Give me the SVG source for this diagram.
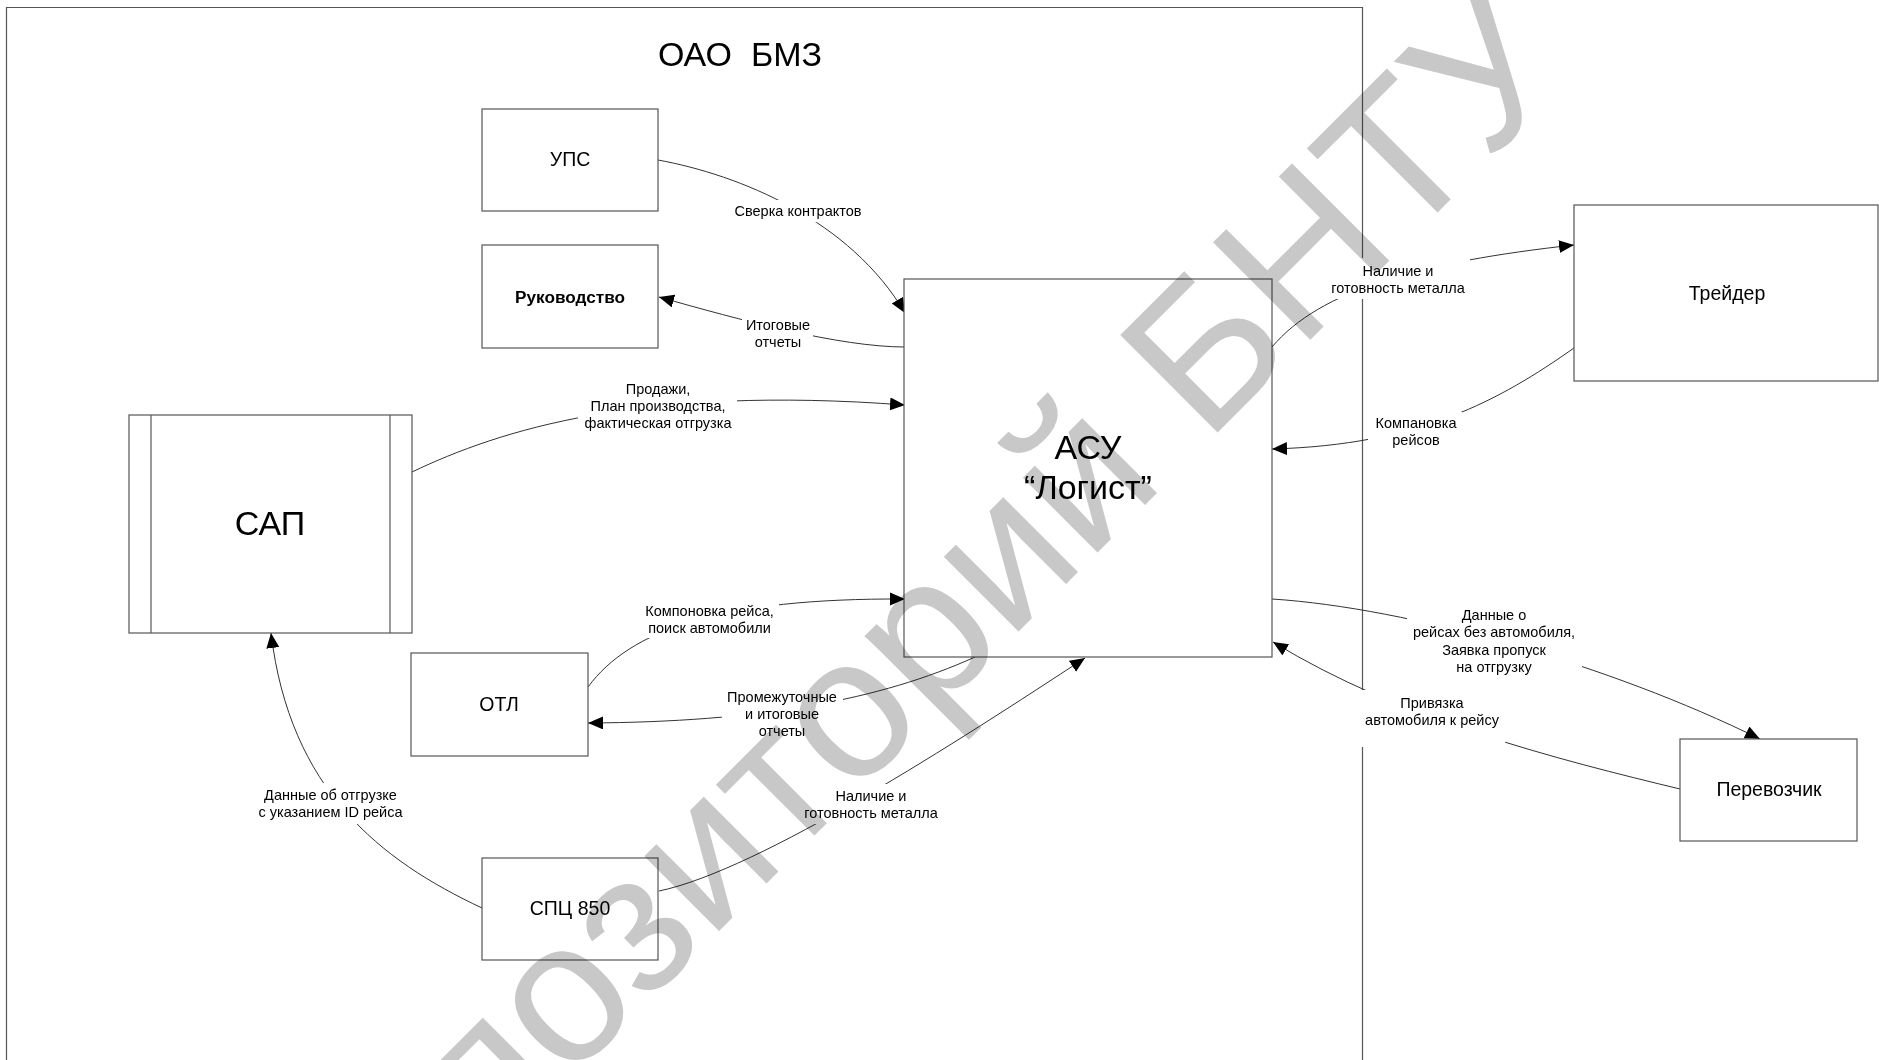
<svg xmlns="http://www.w3.org/2000/svg" width="1879" height="1060" viewBox="0 0 1879 1060">
<defs>
<marker id="arr" markerUnits="userSpaceOnUse" markerWidth="16" markerHeight="14" refX="15" refY="6.5" orient="auto">
<path d="M0,0 L15,6.5 L0,13 z" fill="#000"/>
</marker>
<style>
text{font-family:"Liberation Sans",Arial,sans-serif;fill:#000;text-anchor:middle}
.box{fill:#fff;stroke:#555;stroke-width:1.2}
.nl{font-size:19.5px}
.big{font-size:34px}
.lbl{font-size:14.5px}
.lb{fill:#fff;stroke:none}
.con{fill:none;stroke:#333;stroke-width:1}
.wm{font-size:200px;fill:#c8c8c8;text-anchor:start;mix-blend-mode:multiply}
</style>
</defs>
<rect width="1879" height="1060" fill="#fff"/>
<g id="frame">
<path d="M6.5,1061 V7.5 H1362.5 V1061" fill="none" stroke="#555" stroke-width="1.2"/>
<text x="740" y="66" class="big">ОАО&#160; БМЗ</text>
</g>
<g id="connectors">
<path class="con" d="M658,160 C740,175 850,220 905,313" marker-end="url(#arr)"/>
<path class="con" d="M905,347 C840,347 740,320 659,297" marker-end="url(#arr)"/>
<path class="con" d="M412,472 C500,430 640,385 905,405" marker-end="url(#arr)"/>
<path class="con" d="M588,687 C630,630 720,598 905,599" marker-end="url(#arr)"/>
<path class="con" d="M975,657 C880,700 760,722 588,723" marker-end="url(#arr)"/>
<path class="con" d="M659,891 C760,870 960,740 1085,658" marker-end="url(#arr)"/>
<path class="con" d="M482,908 C380,860 290,790 271,633" marker-end="url(#arr)"/>
<path class="con" d="M1272,347 C1320,290 1420,262 1574,245" marker-end="url(#arr)"/>
<path class="con" d="M1574,348 C1500,400 1420,445 1272,449" marker-end="url(#arr)"/>
<path class="con" d="M1272,599 C1410,608 1610,665 1760,739" marker-end="url(#arr)"/>
<path class="con" d="M1680,789 C1560,760 1400,720 1273,642" marker-end="url(#arr)"/>
</g>
<g id="labels">
<rect class="lb" x="731" y="200" width="135" height="22"/>
<text class="lbl" x="798" y="216">Сверка контрактов</text>
<rect class="lb" x="742" y="315" width="71" height="37"/>
<text class="lbl" x="778" y="330">Итоговые</text>
<text class="lbl" x="778" y="347.3">отчеты</text>
<rect class="lb" x="578" y="378" width="159" height="54"/>
<text class="lbl" x="658" y="393.5">Продажи,</text>
<text class="lbl" x="658" y="410.8">План производства,</text>
<text class="lbl" x="658" y="428">фактическая отгрузка</text>
<rect class="lb" x="643" y="601" width="136" height="37"/>
<text class="lbl" x="709.5" y="615.5">Компоновка рейса,</text>
<text class="lbl" x="709.5" y="632.5">поиск автомобили</text>
<rect class="lb" x="722" y="687" width="121" height="54"/>
<text class="lbl" x="782" y="701.7">Промежуточные</text>
<text class="lbl" x="782" y="718.5">и итоговые</text>
<text class="lbl" x="782" y="736">отчеты</text>
<rect class="lb" x="799" y="784" width="144" height="40"/>
<text class="lbl" x="871" y="801">Наличие и</text>
<text class="lbl" x="871" y="818.3">готовность металла</text>
<rect class="lb" x="254" y="783" width="153" height="41"/>
<text class="lbl" x="330.5" y="800">Данные об отгрузке</text>
<text class="lbl" x="330.5" y="817.3">с указанием ID рейса</text>
<rect class="lb" x="1326" y="258" width="144" height="41"/>
<text class="lbl" x="1398" y="275.7">Наличие и</text>
<text class="lbl" x="1398" y="293">готовность металла</text>
<rect class="lb" x="1368" y="412" width="94" height="38"/>
<text class="lbl" x="1416" y="427.7">Компановка</text>
<text class="lbl" x="1416" y="445">рейсов</text>
<rect class="lb" x="1407" y="604" width="175" height="73"/>
<text class="lbl" x="1494" y="620">Данные о</text>
<text class="lbl" x="1494" y="637.3">рейсах без автомобиля,</text>
<text class="lbl" x="1494" y="654.6">Заявка пропуск</text>
<text class="lbl" x="1494" y="672">на отгрузку</text>
<rect class="lb" x="1360" y="690" width="145" height="57"/>
<text class="lbl" x="1432" y="707.7">Привязка</text>
<text class="lbl" x="1432" y="725">автомобиля к рейсу</text>
</g>
<g id="node-ups">
<rect class="box" x="482" y="109" width="176" height="102"/>
<text class="nl" x="570" y="166">УПС</text>
</g>
<g id="node-rukovodstvo">
<rect class="box" x="482" y="245" width="176" height="103"/>
<text class="nl" x="570" y="303" font-weight="bold" style="font-size:17.2px">Руководство</text>
</g>
<g id="node-sap">
<rect class="box" x="129" y="415" width="283" height="218"/>
<line x1="151" y1="415" x2="151" y2="633" stroke="#555" stroke-width="1.2"/>
<line x1="390" y1="415" x2="390" y2="633" stroke="#555" stroke-width="1.2"/>
<text class="big" x="270" y="535">САП</text>
</g>
<g id="node-asu">
<rect class="box" x="904" y="279" width="368" height="378"/>
<text class="big" x="1088" y="459">АСУ</text>
<text class="big" x="1088" y="499">“Логист”</text>
</g>
<g id="node-otl">
<rect class="box" x="411" y="653" width="177" height="103"/>
<text class="nl" x="499" y="711">ОТЛ</text>
</g>
<g id="node-spc">
<rect class="box" x="482" y="858" width="176" height="102"/>
<text class="nl" x="570" y="915">СПЦ 850</text>
</g>
<g id="node-trader">
<rect class="box" x="1574" y="205" width="304" height="176"/>
<text class="nl" x="1727" y="300">Трейдер</text>
</g>
<g id="node-perevozchik">
<rect class="box" x="1680" y="739" width="177" height="102"/>
<text class="nl" x="1769" y="796">Перевозчик</text>
</g>
<g id="watermark">
<text class="wm" transform="translate(324,1326) rotate(-45)">Репозиторий БНТУ</text>
</g>
</svg>
